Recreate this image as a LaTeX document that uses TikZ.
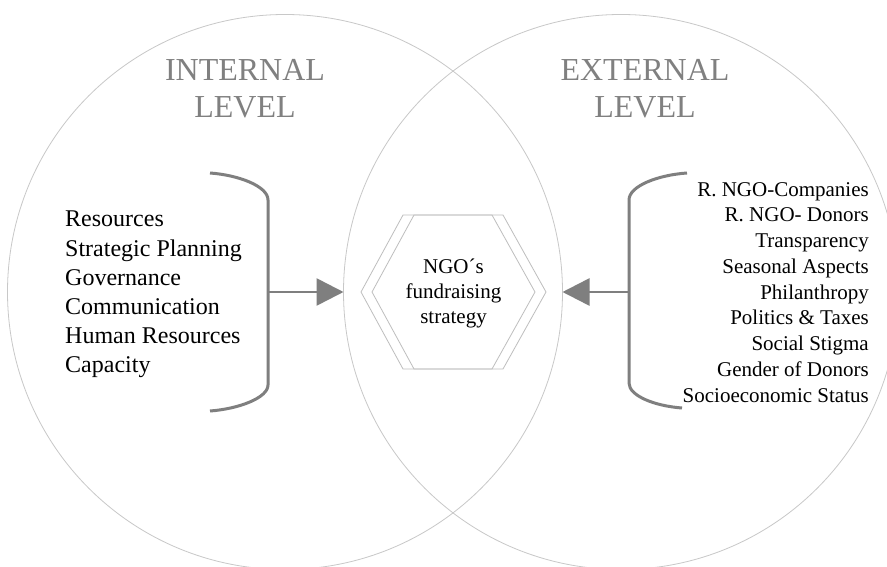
\documentclass[tikz,border=0pt]{standalone}
\usepackage{fontspec}
\setmainfont{Liberation Serif}
\usetikzlibrary{shapes.geometric,arrows.meta}
\definecolor{ringgray}{HTML}{C8C8C8}
\definecolor{hexgray}{HTML}{BEBEBE}
\definecolor{bracegray}{HTML}{7F7F7F}
\definecolor{titlegray}{HTML}{808080}
\tikzset{
  ring/.style={circle, draw=ringgray, line width=0.8pt, minimum size=555pt, inner sep=0pt, outer sep=0pt},
  hexline/.style={draw=hexgray, line width=0.8pt, line join=miter},
  leveltitle/.style={align=center, text=titlegray, inner sep=0pt, font=\fontsize{32}{37}\selectfont},
  brace/.style={draw=bracegray, line width=3pt},
  flow/.style={draw=bracegray, line width=2.6pt, -{Triangle[length=27pt,width=27pt]}},
  leftlist/.style={align=left, inner sep=0pt, font=\fontsize{24}{29.2}\selectfont},
  rightlist/.style={align=right, inner sep=0pt, font=\fontsize{21}{25.75}\selectfont},
  centertext/.style={align=center, inner sep=0pt, font=\fontsize{21}{25}\selectfont}
}
\begin{document}
\begin{tikzpicture}[x=1pt,y=-1pt]
\useasboundingbox (0,0) rectangle (887,567);
\fill[white] (0,0) rectangle (887,567);
\node[ring] (lc) at (285,292) {};
\node[ring] (rc) at (621,292) {};
% double hexagon
\draw[hexline] (361,292) -- (403,215) -- (503,215) -- (546,292) -- (503,369) -- (403,369) -- cycle;
\draw[hexline] (372,292) -- (414,215) -- (492,215) -- (535,292) -- (492,369) -- (414,369) -- cycle;
\node[centertext] (goal) at (453.5,293) {NGO´s\\fundraising\\strategy};
\node[leveltitle, anchor=north] (intt) at (245,59) {INTERNAL\\LEVEL};
\node[leveltitle, anchor=north] (extt) at (645,59) {EXTERNAL\\LEVEL};
\node[leftlist, anchor=north west] (intlist) at (65,211) {Resources\\Strategic Planning\\Governance\\Communication\\Human Resources\\Capacity};
\node[rightlist, anchor=north east] (extlist) at (869,182) {R. NGO-Companies\\R. NGO- Donors\\Transparency\\Seasonal Aspects\\Philanthropy\\Politics \& Taxes\\Social Stigma\\Gender of Donors\\Socioeconomic Status};
% brackets
\draw[brace] (210,173) .. controls (238,175) and (268,186) .. (268,200) -- (268,385) .. controls (268,398) and (238,409) .. (210,411);
\draw[brace] (687,173) .. controls (658,175) and (629,186) .. (629,200) -- (629,383) .. controls (629,396) and (655,406) .. (682,408);
\coordinate (lbm) at (268,292);
\coordinate (rbm) at (629,292);
\draw[flow] (lbm) -- (rc.west);
\draw[flow] (rbm) -- (lc.east);
\end{tikzpicture}
\end{document}
